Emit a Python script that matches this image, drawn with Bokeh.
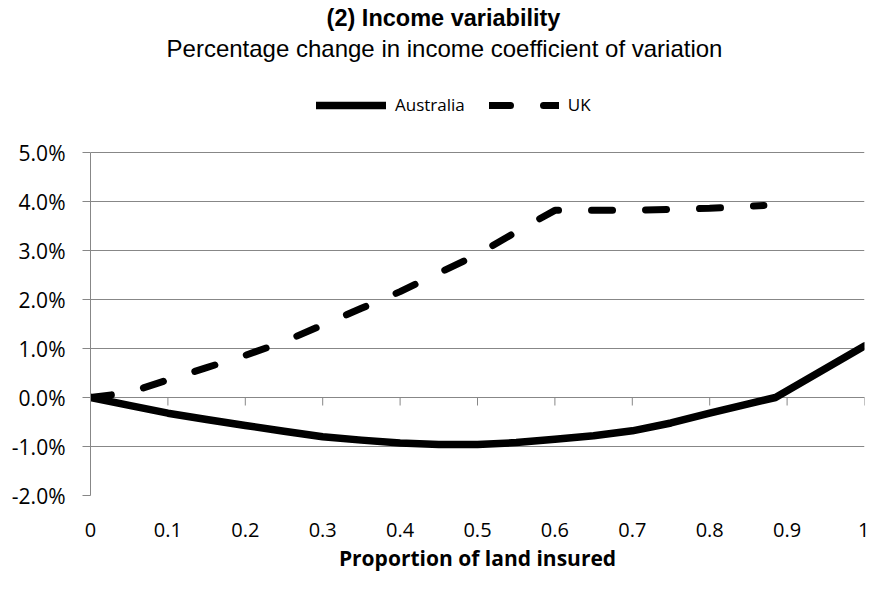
from bokeh.plotting import figure
from bokeh.models import (FixedTicker, PrintfTickFormatter, CustomJSTickFormatter, Span,
                          Label, Legend, LegendItem)
from bokeh.embed import file_html
from bokeh.resources import INLINE

# ---------------- data ----------------
title_text = "(2) Income variability"
subtitle_text = "Percentage change in income coefficient of variation"
x_axis_title = "Proportion of land insured"
series_names = ["Australia", "UK"]

# x = proportion of land insured, y = % change in income CV
aus_x = [0, 0.05, 0.1, 0.15, 0.2, 0.25, 0.3, 0.35, 0.4, 0.45, 0.5, 0.55, 0.6, 0.65,
         0.7, 0.75, 0.8, 0.85, 0.885, 1.0]
aus_y = [0, -0.16, -0.32, -0.45, -0.57, -0.69, -0.80, -0.87, -0.93, -0.96, -0.96, -0.92,
         -0.85, -0.78, -0.68, -0.52, -0.32, -0.13, 0.0, 1.05]

uk_x = [0, 0.05, 0.1, 0.15, 0.2, 0.25, 0.3, 0.35, 0.4, 0.45, 0.5, 0.55, 0.6, 0.7, 0.8, 0.87]
uk_y = [0, 0.10, 0.36, 0.61, 0.86, 1.14, 1.48, 1.82, 2.16, 2.54, 2.92, 3.38, 3.82, 3.82,
        3.86, 3.92]

x_ticks = [0, 0.1, 0.2, 0.3, 0.4, 0.5, 0.6, 0.7, 0.8, 0.9, 1.0]
y_ticks = [-2, -1, 0, 1, 2, 3, 4, 5]

# ---------------- layout (pixels) ----------------
GRAY = "#878787"
W, H = 869, 574
FRAME_LEFT, FRAME_RIGHT = 90, 864
FRAME_BOTTOM = 495          # y = -2%
PLOT_TOP = 152              # y = 5% (frame itself reaches the top edge, to hold titles/legend)
y_lo, y_hi = y_ticks[0], y_ticks[-1]
px_per_unit = (FRAME_BOTTOM - PLOT_TOP) / (y_hi - y_lo)
y_top = y_hi + PLOT_TOP / px_per_unit

p = figure(width=W, height=H, x_range=(0, 1), y_range=(y_lo, y_top),
           output_backend="svg", toolbar_location=None,
           min_border_left=FRAME_LEFT, min_border_right=W - FRAME_RIGHT,
           min_border_top=0, min_border_bottom=H - FRAME_BOTTOM)
p.outline_line_color = None
p.background_fill_color = "white"
p.border_fill_color = "white"

p.xgrid.visible = False
p.ygrid.ticker = FixedTicker(ticks=y_ticks)
p.ygrid.grid_line_color = GRAY
p.ygrid.grid_line_width = 1

ya = p.yaxis[0]
ya.ticker = FixedTicker(ticks=y_ticks)
ya.bounds = (y_lo, y_hi)
ya.formatter = PrintfTickFormatter(format="%.1f%%")
ya.axis_line_color = GRAY
ya.major_tick_line_color = GRAY
ya.major_tick_out = 8
ya.major_tick_in = 0
ya.minor_tick_line_color = None
ya.major_label_standoff = 17
ya.major_label_text_font = "Open Sans"
ya.major_label_text_font_size = "21px"
ya.major_label_text_color = "black"

xa = p.xaxis[0]
xa.ticker = FixedTicker(ticks=x_ticks)
xa.formatter = CustomJSTickFormatter(code="return tick.toFixed(1).replace(/\\.0$/, '')")
xa.axis_line_color = None
xa.major_tick_line_color = None
xa.major_tick_out = 0
xa.major_tick_in = 0
xa.minor_tick_line_color = None
xa.major_label_standoff = 27
xa.major_label_text_font = "Open Sans"
xa.major_label_text_font_size = "20px"
xa.major_label_text_color = "black"
xa.axis_label = x_axis_title
xa.axis_label_text_font = "Open Sans"
xa.axis_label_text_font_style = "bold"
xa.axis_label_text_font_size = "21px"
xa.axis_label_text_color = "black"
xa.axis_label_standoff = 4

# horizontal axis line crossing at y = 0, with its tick marks
p.add_layout(Span(location=0, dimension="width", line_color=GRAY, line_width=1, level="underlay"))
tick_len = 8 / px_per_unit
p.segment(x0=x_ticks[1:], y0=[0] * (len(x_ticks) - 1), x1=x_ticks[1:],
          y1=[-tick_len] * (len(x_ticks) - 1), line_color=GRAY, line_width=1)

r_aus = p.line(aus_x, aus_y, line_color="black", line_width=7.5,
               line_cap="round", line_join="round")
r_uk = p.line(uk_x, uk_y, line_color="black", line_width=7, line_dash="21 33",
              line_cap="round", line_join="round")

# legend centred near y = 106 px, starting near x = 316 px
legend = Legend(items=[LegendItem(label=series_names[0], renderers=[r_aus]),
                       LegendItem(label=series_names[1], renderers=[r_uk])],
                location=(316 - FRAME_LEFT, FRAME_BOTTOM - 116), orientation="horizontal",
                glyph_width=70, glyph_height=20, label_height=20, label_standoff=9,
                spacing=24, padding=0, margin=0, border_line_color=None,
                background_fill_alpha=0, label_text_font="Open Sans",
                label_text_font_size="17px", label_text_color="black")
p.add_layout(legend)

p.add_layout(Label(x=443 - FRAME_LEFT, y=FRAME_BOTTOM - 17, x_units="screen", y_units="screen",
                   text=title_text, text_align="center", text_baseline="middle",
                   text_font="Liberation Sans", text_font_style="bold",
                   text_font_size="23.5px", text_color="black"))
p.add_layout(Label(x=444 - FRAME_LEFT, y=FRAME_BOTTOM - 48, x_units="screen", y_units="screen",
                   text=subtitle_text, text_align="center", text_baseline="middle",
                   text_font="Liberation Sans", text_font_size="24px", text_color="black"))

open("out.html", "w").write(file_html(p, INLINE))
